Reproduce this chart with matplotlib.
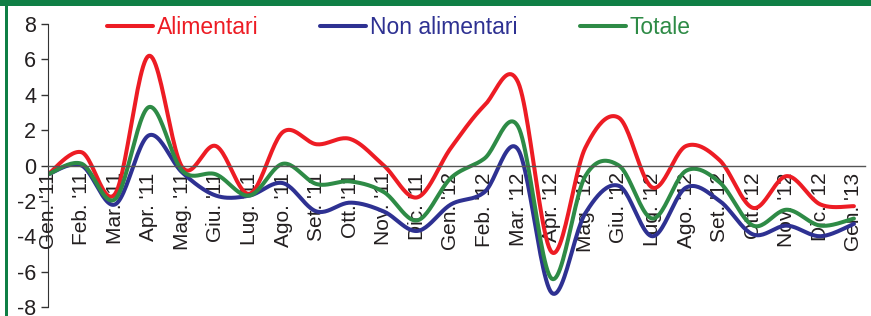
import numpy as np
import matplotlib
matplotlib.use("Agg")
import matplotlib.pyplot as plt
from matplotlib.patches import Rectangle

# month labels, Gen. '11 .. Gen. '13
months = ["Gen. '11", "Feb. '11", "Mar. '11", "Apr. '11", "Mag. '11", "Giu. '11",
          "Lug. '11", "Ago. '11", "Set. '11", "Ott. '11", "Nov. '11", "Dic. '11",
          "Gen. '12", "Feb. '12", "Mar. '12", "Apr. '12", "Mag. '12", "Giu. '12",
          "Lug. '12", "Ago. '12", "Set. '12", "Ott. '12", "Nov. '12", "Dic. '12",
          "Gen. '13"]

alimentari = [-0.5, 0.75, -1.6, 6.2, -0.1, 1.1, -1.6, 1.9, 1.2, 1.5, 0.0, -1.8,
              1.0, 3.4, 4.7, -4.9, 1.0, 2.7, -1.25, 1.1, 0.3, -2.4, -0.6, -2.2,
              -2.3]
non_alimentari = [-0.5, 0.0, -2.2, 1.7, -0.4, -1.7, -1.7, -1.0, -2.6, -2.1, -2.6, -3.7,
                  -2.2, -1.5, 0.9, -7.2, -2.7, -1.15, -4.0, -1.25, -2.0, -3.9, -3.4, -4.0,
                  -3.3]
totale = [-0.5, 0.1, -1.9, 3.3, -0.3, -0.5, -1.7, 0.1, -1.05, -0.9, -1.5, -3.1,
          -0.7, 0.4, 2.2, -6.4, -0.6, 0.0, -3.0, -0.3, -0.95, -3.4, -2.5, -3.4,
          -3.0]

RED = "#ED1C24"
BLUE = "#2E3192"
GREEN = "#2E8B46"
FRAME = "#0F7F45"


def smooth(y, n=24):
    # catmull-rom, like the "smoothed line" option of spreadsheet charts
    y = np.asarray(y, dtype=float)
    x = np.arange(len(y), dtype=float)
    xs, ys = [], []
    t = np.linspace(0, 1, n, endpoint=False)
    for i in range(len(y) - 1):
        i0, i3 = max(i - 1, 0), min(i + 2, len(y) - 1)
        for arr, out in ((x, xs), (y, ys)):
            p0, p1, p2, p3 = arr[i0], arr[i], arr[i + 1], arr[i3]
            c1 = p1 + (p2 - p0) / 6
            c2 = p2 - (p3 - p1) / 6
            out.extend((1 - t) ** 3 * p1 + 3 * (1 - t) ** 2 * t * c1
                       + 3 * (1 - t) * t ** 2 * c2 + t ** 3 * p2)
    xs.append(x[-1])
    ys.append(y[-1])
    return np.array(xs), np.array(ys)


plt.rcParams['font.family'] = ['Liberation Sans', 'DejaVu Sans']
plt.rcParams['axes.unicode_minus'] = False

fig = plt.figure(figsize=(8.71, 3.16), dpi=100)
ax = fig.add_axes([48 / 871, 1 - 307 / 316, (865 - 48) / 871, (307 - 24) / 316])

for vals, col, lab in ((alimentari, RED, "Alimentari"),
                       (non_alimentari, BLUE, "Non alimentari"),
                       (totale, GREEN, "Totale")):
    sx, sy = smooth(vals)
    ax.plot(sx, sy, color=col, lw=2.9, label=lab, solid_capstyle='round')

ax.set_xlim(0, 24.33)
ax.set_ylim(-8, 8)
ax.set_yticks(np.arange(-8, 9, 2))
ax.tick_params(axis='y', direction='out', length=5, width=1, color='#333333',
               labelsize=15.5, labelcolor='#231F20', pad=3.5)

ax.spines['top'].set_visible(False)
ax.spines['right'].set_visible(False)
ax.spines['left'].set_color('#333333')
ax.spines['bottom'].set_position(('data', 0))
ax.spines['bottom'].set_color('#555555')
ax.spines['bottom'].set_linewidth(1)

ax.set_xticks(range(len(months)))
ax.set_xticklabels(months, rotation=90, fontsize=15, color='#231F20')
ax.tick_params(axis='x', length=0, pad=5)
ax.set_facecolor('none')

leg = fig.legend(loc='upper left', bbox_to_anchor=(107 / 871, 1 - 16 / 316),
                 ncol=3, frameon=False, fontsize=16.5, handlelength=2.0,
                 handletextpad=0.18, columnspacing=2.7, borderpad=0,
                 borderaxespad=0, labelcolor='linecolor')

# green frame: top bar and left border
fig.patches.append(Rectangle((0, 1 - 6 / 316), 1, 6 / 316, transform=fig.transFigure,
                             facecolor=FRAME, edgecolor='none'))
fig.patches.append(Rectangle((5 / 871, 0), 3 / 871, 1, transform=fig.transFigure,
                             facecolor=FRAME, edgecolor='none'))

fig.savefig("out.png", dpi=100)
